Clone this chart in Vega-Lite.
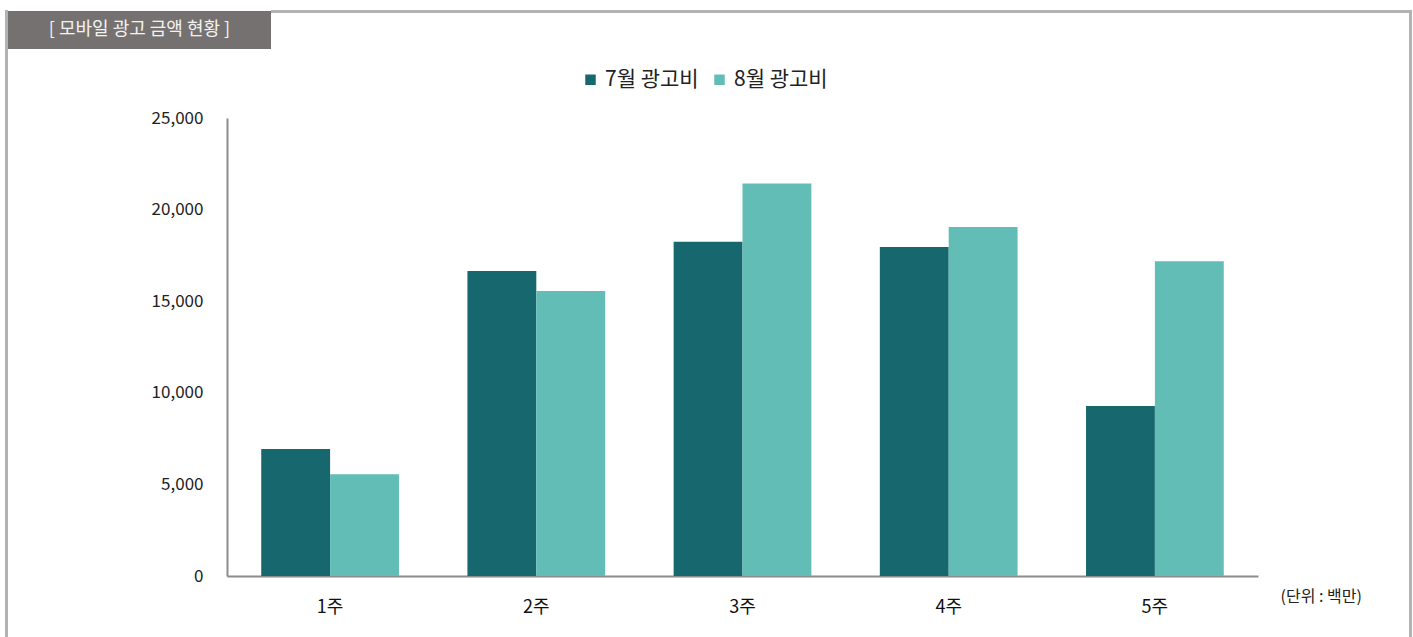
{
  "$schema": "https://vega.github.io/schema/vega-lite/v6.json",
  "padding": {"left": 5, "top": 10, "right": 0, "bottom": 0},
  "background": "white",
  "spacing": 0,
  "config": {"font": "Noto Sans CJK KR", "view": {"stroke": null}},
  "hconcat": [
    {
      "width": 1,
      "height": 627,
      "view": {"stroke": "#b3b3b3", "strokeWidth": 2},
      "data": {"values": []},
      "mark": "point",
      "encoding": {}
    },
    {
      "spacing": 60,
      "vconcat": [
        {
          "spacing": 0,
          "hconcat": [
            {
              "width": 263,
              "height": 38,
              "view": {"fill": "#767171", "stroke": null},
              "data": {"values": [{"title": "[ 모바일 광고 금액 현황 ]"}]},
              "mark": {"type": "text", "color": "#f2f2f2", "fontSize": 18},
              "encoding": {"text": {"field": "title"}}
            },
            {
              "width": 1136,
              "height": 1,
              "view": {"stroke": "#b3b3b3", "strokeWidth": 2},
              "data": {"values": []},
              "mark": "point",
              "encoding": {}
            }
          ]
        },
        {
          "spacing": 142,
          "hconcat": [
            {
              "width": 1,
              "height": 1,
              "data": {"values": []},
              "mark": "point",
              "encoding": {}
            },
            {
              "width": 1031,
              "height": 458,
              "data": {
                "values": [
                  {"week": "1주", "series": "7월 광고비", "amount": 6930},
                  {"week": "1주", "series": "8월 광고비", "amount": 5550},
                  {"week": "2주", "series": "7월 광고비", "amount": 16650},
                  {"week": "2주", "series": "8월 광고비", "amount": 15560},
                  {"week": "3주", "series": "7월 광고비", "amount": 18250},
                  {"week": "3주", "series": "8월 광고비", "amount": 21430},
                  {"week": "4주", "series": "7월 광고비", "amount": 17960},
                  {"week": "4주", "series": "8월 광고비", "amount": 19050},
                  {"week": "5주", "series": "7월 광고비", "amount": 9280},
                  {"week": "5주", "series": "8월 광고비", "amount": 17180}
                ]
              },
              "mark": {"type": "bar"},
              "encoding": {
                "x": {
                  "field": "week",
                  "type": "nominal",
                  "sort": null,
                  "scale": {"paddingInner": 0.332, "paddingOuter": 0.166},
                  "axis": {
                    "title": "(단위 : 백만)",
                    "labelAngle": 0,
                    "ticks": false,
                    "domainColor": "#8c8c8c",
                    "domainWidth": 2,
                    "labelFontSize": 18,
                    "labelColor": "#111111",
                    "labelPadding": 22,
                    "titleAnchor": "end",
                    "titleAlign": "left",
                    "titleX": 1053,
                    "titleY": 20,
                    "titleBaseline": "middle",
                    "titleFontSize": 16,
                    "titleFontWeight": "normal",
                    "titleColor": "#222222"
                  }
                },
                "xOffset": {"field": "series", "sort": ["7월 광고비", "8월 광고비"]},
                "y": {
                  "field": "amount",
                  "type": "quantitative",
                  "scale": {"domain": [0, 25000]},
                  "axis": {
                    "values": [0, 5000, 10000, 15000, 20000, 25000],
                    "format": ",.0f",
                    "title": null,
                    "grid": false,
                    "ticks": false,
                    "domainColor": "#8c8c8c",
                    "domainWidth": 2,
                    "labelFontSize": 17,
                    "labelPadding": 24,
                    "labelColor": "#222222"
                  }
                },
                "color": {
                  "field": "series",
                  "type": "nominal",
                  "scale": {"domain": ["7월 광고비", "8월 광고비"], "range": ["#17686E", "#62BDB6"]},
                  "legend": {
                    "title": null,
                    "orient": "none",
                    "direction": "horizontal",
                    "legendX": 574,
                    "legendY": 58,
                    "padding": 0,
                    "symbolType": "square",
                    "symbolSize": 110,
                    "symbolStrokeWidth": 0,
                    "labelFontSize": 21,
                    "labelColor": "#222222",
                    "labelOffset": 4,
                    "columnSpacing": 22
                  }
                }
              }
            }
          ]
        }
      ]
    },
    {
      "width": 1,
      "height": 627,
      "view": {"stroke": "#b3b3b3", "strokeWidth": 2},
      "data": {"values": []},
      "mark": "point",
      "encoding": {}
    }
  ]
}
